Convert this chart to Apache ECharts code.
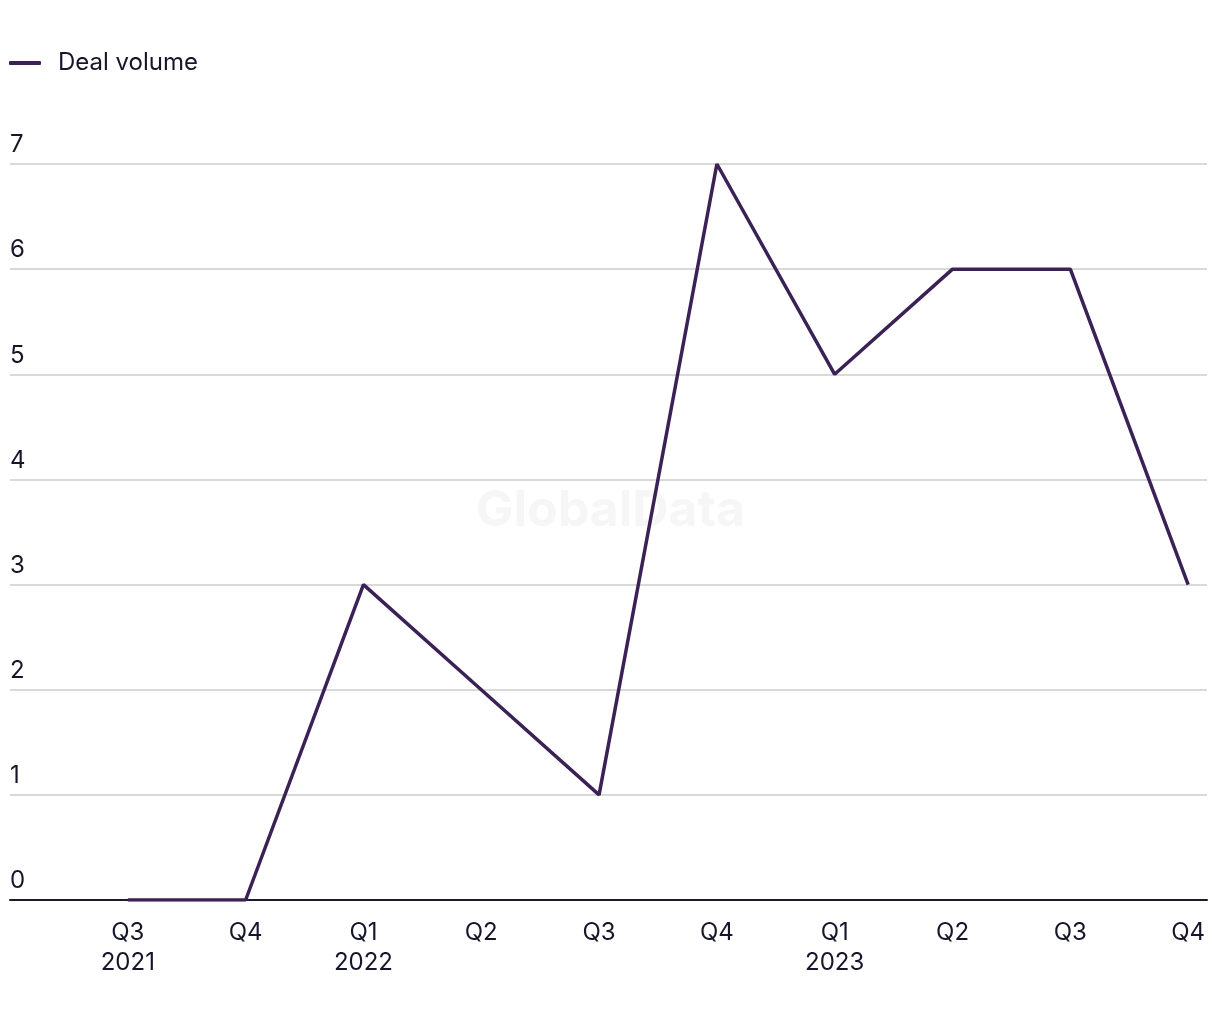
<!DOCTYPE html>
<html>
<head>
<meta charset="utf-8">
<script src="https://cdn.jsdelivr.net/npm/echarts@6/dist/echarts.min.js"></script>
<style>
  html, body { margin: 0; padding: 0; background: #fff; }
  #chart { width: 1220px; height: 1020px; }
</style>
</head>
<body>
<div id="chart"></div>
<script>
// quarters shown on the x axis (second line = year where the year starts)
const quarters = ['Q3\n2021', 'Q4', 'Q1\n2022', 'Q2', 'Q3', 'Q4', 'Q1\n2023', 'Q2', 'Q3', 'Q4']
// deal volume per quarter
const dealVolume = [0, 0, 3, 2, 1, 7, 5, 6, 6, 3]
const yTicks = [0, 1, 2, 3, 4, 5, 6, 7]

const font = 'Inter, "Noto Sans", sans-serif'
const textColor = '#16162a'
const lineColor = '#3b2256'

const chart = echarts.init(document.getElementById('chart'))

const options = {
  animation: false,
  backgroundColor: '#ffffff',
  graphic: [{
    type: 'text',
    left: 476,
    top: 486,
    silent: true,
    z: 0,
    style: {
      text: 'GlobalData',
      font: 'bold 50px ' + font,
      fill: '#f6f6f6'
    }
  }],
  legend: {
    left: 4,
    top: 46,
    itemWidth: 32,
    itemHeight: 4,
    itemGap: 20,
    icon: 'roundRect',
    textStyle: { fontFamily: font, fontSize: 24, color: textColor, padding: [0, 0, 0, 12] },
    data: ['Deal volume']
  },
  grid: {
    left: 10,
    right: 13,
    top: 164,
    bottom: 120,
    containLabel: false
  },
  xAxis: {
    type: 'value',
    min: -1,
    max: 9.16,
    interval: 1,
    splitLine: { show: false },
    axisTick: { show: false },
    axisLine: { show: true, onZero: false, lineStyle: { color: '#1b1b2f', width: 2 } },
    axisLabel: {
      showMinLabel: false,
      showMaxLabel: false,
      margin: 18,
      fontFamily: font,
      fontSize: 24,
      lineHeight: 30,
      color: textColor,
      formatter: function (v) {
        const i = Math.round(v)
        if (Math.abs(v - i) > 1e-6 || i < 0 || i >= quarters.length) return ''
        return quarters[i]
      }
    }
  },
  yAxis: {
    type: 'value',
    min: yTicks[0],
    max: yTicks[yTicks.length - 1],
    interval: 1,
    axisLine: { show: false },
    axisTick: { show: false },
    splitLine: { show: true, lineStyle: { color: '#d9d9d9', width: 2 } },
    axisLabel: {
      inside: true,
      margin: 0,
      verticalAlign: 'bottom',
      padding: [0, 0, 7, 0],
      fontFamily: font,
      fontSize: 24,
      color: textColor
    }
  },
  series: [{
    name: 'Deal volume',
    type: 'line',
    showSymbol: false,
    z: 5,
    color: lineColor,
    lineStyle: { color: lineColor, width: 3.5 },
    data: dealVolume.map((v, i) => [i, v])
  }]
}

chart.setOption(options)
</script>
</body>
</html>
